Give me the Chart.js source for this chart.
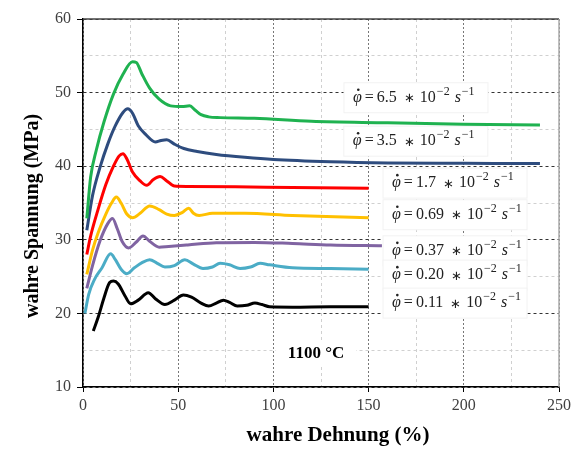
<!DOCTYPE html>
<html>
<head>
<meta charset="utf-8">
<script src="https://cdn.jsdelivr.net/npm/chart.js@4"></script>
<style>
  html, body { margin: 0; padding: 0; background: #fff; }
  #wrap { width: 579px; height: 449px; }
</style>
</head>
<body>
<div id="wrap"><canvas id="fliesskurven"></canvas></div>
<script>
// Fließkurven bei 1100 °C
const raten = ['6.5', '3.5', '1.7', '0.69', '0.37', '0.20', '0.11'];
const farben = ['#1fb250', '#2e4c7e', '#ff0000', '#ffc000', '#8064a2', '#4bacc6', '#000000'];

const dehnung65 = [2, 4, 7, 11, 16, 21, 26, 28, 31, 35, 40, 46, 52, 56, 59, 62, 66, 72, 90, 120, 160, 200, 240];
const spannung65 = [32.9, 38.5, 42.2, 46, 49.8, 52.5, 54.2, 54.1, 52.5, 50.6, 49.1, 48.2, 48.1, 48.2, 47.6, 47.0, 46.7, 46.6, 46.5, 46.1, 45.9, 45.7, 45.6];

const dehnung35 = [2, 5, 9, 13, 17, 21, 23.5, 26, 29, 33, 38, 41, 44, 48, 53, 60, 70, 85, 100, 130, 160, 200, 240];
const spannung35 = [31.3, 36, 39.9, 43, 45.5, 47.3, 47.8, 47.2, 45.5, 44.3, 43.3, 43.5, 43.6, 43.0, 42.4, 42.0, 41.6, 41.2, 40.9, 40.6, 40.45, 40.4, 40.35];

const dehnung17 = [2, 4, 8, 12, 16, 19, 21, 23, 26, 30, 33.5, 37, 40.5, 44, 48, 55, 80, 110, 150];
const spannung17 = [28.0, 30.5, 34.2, 37.5, 40.0, 41.4, 41.7, 41.0, 39.2, 38.0, 37.4, 38.2, 38.6, 38.0, 37.3, 37.25, 37.2, 37.1, 37.0];

const dehnung069 = [2, 5, 8, 12, 15, 17.5, 20, 23, 26, 30, 35, 40, 44, 48, 52, 55.5, 58, 61, 68, 85, 110, 150];
const spannung069 = [25.3, 28.6, 31.0, 33.5, 35.0, 35.8, 35.0, 33.5, 33.0, 33.6, 34.6, 34.1, 33.5, 33.3, 33.7, 34.3, 33.6, 33.3, 33.6, 33.6, 33.3, 33.0];

const dehnung037 = [2, 5, 9, 13, 15.5, 18, 20.5, 24, 28, 31.5, 35, 40, 45, 55, 70, 90, 110, 130, 157];
const spannung037 = [23.4, 26.5, 29.9, 32.2, 32.9, 31.5, 29.8, 28.9, 29.7, 30.5, 29.8, 29.0, 29.1, 29.3, 29.6, 29.65, 29.5, 29.3, 29.2];

const dehnung020 = [1, 3, 6, 10, 14.5, 17, 20, 23, 27, 31, 35, 39, 43, 48, 53.5, 58, 63, 68, 72, 77, 82.5, 88, 93, 98, 110, 130, 150];
const spannung020 = [20.0, 22.6, 24.6, 26.2, 28.1, 27.3, 26.0, 25.4, 26.2, 26.9, 27.3, 26.8, 26.3, 26.5, 27.3, 26.7, 26.1, 26.3, 26.8, 26.6, 26.1, 26.3, 26.8, 26.6, 26.2, 26.1, 26.0];

const dehnung011 = [5.4, 8, 11, 14, 16, 18.5, 22, 25, 29, 34.3, 38, 43, 48, 52.7, 57, 62, 66, 70, 73.7, 77, 81, 86, 90.3, 94, 98, 110, 130, 150];
const spannung011 = [17.6, 19.5, 22.1, 24.2, 24.4, 24.0, 22.4, 21.3, 21.8, 22.8, 22.0, 21.2, 21.8, 22.5, 22.2, 21.4, 21.0, 21.4, 21.8, 21.5, 21.0, 21.1, 21.4, 21.2, 20.9, 20.85, 20.9, 20.9];

const dehnungen = [dehnung65, dehnung35, dehnung17, dehnung069, dehnung037, dehnung020, dehnung011];
const spannungen = [spannung65, spannung35, spannung17, spannung069, spannung037, spannung020, spannung011];

// Beschriftungen der Kurven (Dehnung, Spannung als Ankerpunkt)
const labelDehnung = [141.8, 141.7, 162.3, 162.3, 162.3, 162.3, 162.3];
const labelSpannung = [49.3, 43.4, 37.7, 33.4, 28.5, 25.2, 21.4];

const SERIF = '"Liberation Serif", "Times New Roman", serif';

const datasets = raten.map((r, i) => ({
    label: r,
    data: dehnungen[i].map((x, k) => ({ x: x, y: spannungen[i][k] })),
    borderColor: farben[i],
    borderWidth: 3,
    pointRadius: 0,
    cubicInterpolationMode: 'monotone',
    fill: false
}));

// Formel  φ̇ = 6.5 ∗ 10^-2 s^-1
function zeichneRate(ctx, x, y, wert) {
    const gr = 16, kl = 12;
    ctx.textBaseline = 'middle';
    ctx.textAlign = 'left';
    ctx.fillStyle = '#222';
    ctx.font = 'italic ' + gr + 'px ' + SERIF;
    ctx.fillText('φ', x, y);
    let w = ctx.measureText('φ').width;
    ctx.beginPath();
    ctx.arc(x + w * 0.6, y - 8, 1.3, 0, Math.PI * 2);
    ctx.fill();
    x += w + 3;
    ctx.font = gr + 'px ' + SERIF;
    ctx.fillText('=', x, y);
    x += ctx.measureText('=').width + 3;
    ctx.fillText(wert, x, y);
    x += ctx.measureText(wert).width + 7;
    ctx.font = '13px ' + SERIF;
    ctx.fillText('∗', x, y + 1);
    x += ctx.measureText('∗').width + 5;
    ctx.font = gr + 'px ' + SERIF;
    ctx.fillText('10', x, y);
    x += ctx.measureText('10').width + 1;
    ctx.font = kl + 'px ' + SERIF;
    ctx.fillText('−2', x, y - 6);
    x += ctx.measureText('−2').width + 5;
    ctx.font = 'italic ' + gr + 'px ' + SERIF;
    ctx.fillText('s', x, y);
    x += ctx.measureText('s').width + 1;
    ctx.font = kl + 'px ' + SERIF;
    ctx.fillText('−1', x, y - 6);
}

const beschriftung = {
    id: 'beschriftung',
    beforeDatasetsDraw(chart) {
        const { ctx, scales: { x, y } } = chart;
        ctx.save();
        raten.forEach((r, i) => {
            const px = x.getPixelForValue(labelDehnung[i]);
            const py = y.getPixelForValue(labelSpannung[i]);
            ctx.fillStyle = '#fff';
            ctx.fillRect(px - 9, py - 15, 144, 30);
            ctx.strokeStyle = '#f2f2f2';
            ctx.lineWidth = 1;
            ctx.strokeRect(px - 9, py - 15, 144, 30);
            zeichneRate(ctx, px, py, r);
        });

        // Temperatur
        const tx = x.getPixelForValue(122.4), ty = y.getPixelForValue(14.5);
        ctx.fillStyle = '#fff';
        ctx.fillRect(tx - 40, ty - 13, 80, 26);
        ctx.fillStyle = '#000';
        ctx.font = 'bold 17px ' + SERIF;
        ctx.textAlign = 'center';
        ctx.textBaseline = 'middle';
        ctx.fillText('1100 °C', tx, ty);
        ctx.restore();
    },
    afterDatasetsDraw(chart) {
        const { ctx, chartArea: a } = chart;
        ctx.save();
        // Rahmen oben und rechts
        ctx.lineWidth = 1.5;
        ctx.strokeStyle = '#444';
        ctx.beginPath(); ctx.moveTo(a.left, a.top); ctx.lineTo(a.right, a.top); ctx.stroke();
        ctx.strokeStyle = '#aaa';
        ctx.beginPath(); ctx.moveTo(a.right, a.top); ctx.lineTo(a.right, a.bottom); ctx.stroke();

        // Achsentitel
        ctx.fillStyle = '#000';
        ctx.textAlign = 'center';
        ctx.textBaseline = 'middle';
        ctx.font = 'bold 21px ' + SERIF;
        ctx.fillText('wahre Dehnung (%)', 338, 436);
        ctx.font = 'bold 20px ' + SERIF;
        ctx.translate(33, 216);
        ctx.rotate(-Math.PI / 2);
        ctx.fillText('wahre Spannung (MPa)', 0, 0);
        ctx.restore();
    }
};

const ctx = document.getElementById('fliesskurven').getContext('2d');

const fliesskurven = new Chart(ctx, {
    type: 'line',
    data: { datasets: datasets },
    plugins: [beschriftung],
    options: {
        responsive: true,
        maintainAspectRatio: false,
        animation: false,
        layout: { padding: { top: 19, right: 20, left: 0, bottom: 0 } },
        plugins: {
            legend: { display: false },
            tooltip: { enabled: false }
        },
        scales: {
            x: {
                type: 'linear',
                min: 0,
                max: 250,
                afterFit: (s) => { s.height = 62; },
                ticks: {
                    stepSize: 25,
                    padding: 4,
                    maxRotation: 0,
                    autoSkip: false,
                    color: '#404040',
                    font: { family: SERIF, size: 16 },
                    callback: (v) => (v % 50 === 0 ? v : '')
                },
                grid: {
                    color: (c) => (c.tick && c.tick.value % 50 === 0 ? '#777' : '#d0d0d0'),
                    tickColor: (c) => (c.tick && c.tick.value % 50 === 0 ? '#000' : 'rgba(0,0,0,0)'),
                    tickLength: 5,
                    lineWidth: 1
                },
                border: {
                    color: '#000',
                    width: 1.5,
                    dash: (c) => (c.tick && c.tick.value % 50 === 0 ? [2, 2] : [3, 3])
                }
            },
            y: {
                min: 10,
                max: 60,
                afterFit: (s) => { s.width = 83; },
                ticks: {
                    stepSize: 5,
                    padding: 6,
                    autoSkip: false,
                    color: '#404040',
                    font: { family: SERIF, size: 16 },
                    callback: (v) => (v % 10 === 0 ? v : '')
                },
                grid: {
                    color: (c) => (c.tick && c.tick.value % 10 === 0 ? '#333' : '#d0d0d0'),
                    tickColor: (c) => (c.tick && c.tick.value % 10 === 0 ? '#000' : 'rgba(0,0,0,0)'),
                    tickLength: 6,
                    lineWidth: 1
                },
                border: {
                    color: '#000',
                    width: 1.5,
                    dash: [3, 3]
                }
            }
        }
    }
});
</script>
</body>
</html>
